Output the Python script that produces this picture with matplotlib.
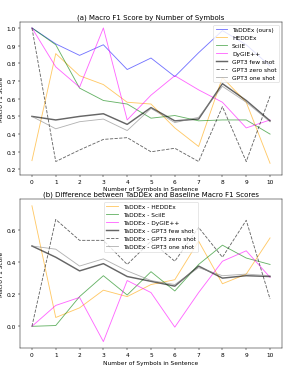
import numpy as np
import matplotlib
matplotlib.use("Agg")
import matplotlib.pyplot as plt

n_symbols = list(range(11))

taddex = [1.0, 0.91, 0.845, 0.905, 0.765, 0.83, 0.725, 0.86, 0.985, 0.905, 0.785]
heddex = [0.25, 0.855, 0.73, 0.68, 0.58, 0.57, 0.435, 0.33, 0.72, 0.58, 0.235]
sciie = [1.0, 0.905, 0.66, 0.59, 0.57, 0.49, 0.505, 0.475, 0.48, 0.48, 0.40]
dygie = [1.0, 0.78, 0.665, 1.0, 0.48, 0.62, 0.73, 0.65, 0.58, 0.435, 0.48]
gpt3_few = [0.5, 0.48, 0.5, 0.515, 0.455, 0.55, 0.475, 0.485, 0.685, 0.59, 0.475]
gpt3_zero = [1.0, 0.245, 0.31, 0.37, 0.38, 0.30, 0.32, 0.245, 0.555, 0.245, 0.615]
gpt3_one = [0.5, 0.43, 0.47, 0.485, 0.42, 0.545, 0.465, 0.495, 0.67, 0.58, 0.47]

# (name, values, style)
baselines = [
    ("HEDDEx", heddex, dict(color="orange", alpha=0.6, lw=1.5)),
    ("SciIE", sciie, dict(color="green", alpha=0.6, lw=1.5)),
    ("DyGIE++", dygie, dict(color="magenta", alpha=0.6, lw=1.5)),
    ("GPT3 few shot", gpt3_few, dict(color="black", alpha=0.6, lw=2.5)),
    ("GPT3 zero shot", gpt3_zero, dict(color="black", alpha=0.6, lw=1.5, ls="--")),
    ("GPT3 one shot", gpt3_one, dict(color="gray", alpha=0.6, lw=1.5)),
]

dpi = 42
fig = plt.figure(figsize=(299 / dpi, 367 / dpi), dpi=dpi)
ax1 = fig.add_axes([0.067, 0.521, 0.876, 0.417])
ax2 = fig.add_axes([0.067, 0.048, 0.876, 0.407])

ax1.plot(n_symbols, taddex, color="blue", alpha=0.55, lw=1.5, label="TaDDEx (ours)")
for name, vals, st in baselines:
    ax1.plot(n_symbols, vals, label=name, **st)
ax1.set_title("(a) Macro F1 Score by Number of Symbols")
ax1.set_xlabel("Number of Symbols in Sentence")
ax1.set_ylabel("Macro F1 Score")
ax1.set_xticks(n_symbols)
ax1.set_ylim(0.17, 1.035)
ax1.legend(loc="upper right")

t = np.array(taddex)
for name, vals, st in baselines:
    ax2.plot(n_symbols, t - np.array(vals), label="TaDDEx - " + name, **st)
ax2.set_title("(b) Difference between TaDDEx and Baseline Macro F1 Scores")
ax2.set_xlabel("Number of Symbols in Sentence")
ax2.set_ylabel("Macro F1 Score")
ax2.set_xticks(n_symbols)
ax2.legend(loc="upper center")

fig.savefig("out.png", dpi=dpi)
